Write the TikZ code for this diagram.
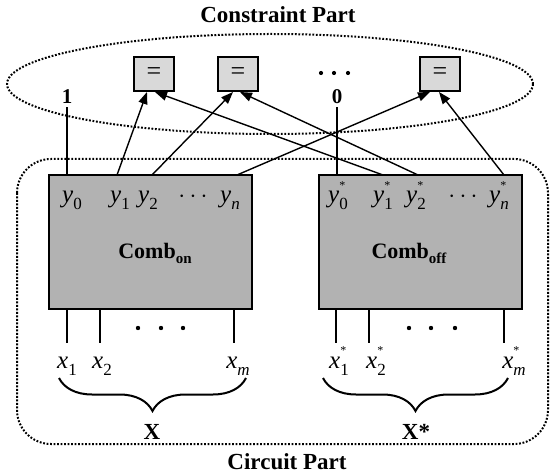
\documentclass[tikz,border=0pt]{standalone}
\usepackage{fontspec}
\setmainfont{Liberation Serif}
\usetikzlibrary{arrows.meta,decorations.pathreplacing}

% variable with lowered index, and the starred copy of it
\newcommand\subsz{\fontsize{17}{17}\selectfont}
\newcommand\starsz{\fontsize{12}{12}\selectfont}
\newcommand\ivar[2]{\textit{#1}\raisebox{-0.28em}{\subsz #2}}
\newcommand\svar[2]{\textit{#1}\rlap{\raisebox{0.55em}{\starsz *}}\raisebox{-0.28em}{\subsz #2}}

\begin{document}
\begin{tikzpicture}
[x=1pt,y=-1pt,
  eqbox/.style={draw,line width=1.6pt,fill=black!15,minimum width=40pt,
    minimum height=34pt,inner sep=0pt,font=\fontsize{26}{26}\selectfont},
  combbox/.style={draw,line width=2.6pt,fill=black!30,minimum width=203pt,
    minimum height=134pt,inner sep=0pt},
  partline/.style={line width=2pt,dash pattern=on 1.8pt off 1.7pt},
  wire/.style={line width=1.6pt},
  feed/.style={line width=1.4pt,-{Triangle[length=12pt,width=9pt]}},
  varlabel/.style={inner sep=0pt,anchor=base,font=\fontsize{25}{25}\selectfont},
  boldlabel/.style={inner sep=3pt,anchor=base,font=\bfseries\fontsize{23}{23}\selectfont},
  brace/.style={line width=2pt,decorate,decoration={brace,amplitude=33pt}}]

\useasboundingbox (0,0) rectangle (552,473);

%% the two parts
\draw[partline] (270,84) ellipse [x radius=263pt, y radius=50pt];
\draw[partline,rounded corners=34pt] (17,159) rectangle (548,444);
\node[boldlabel] (constraint) at (278,23) {Constraint Part};
\node[boldlabel] (circuit) at (287,469) {Circuit Part};

%% equality checkers
\foreach \nodename/\x in {eq1/154, eq2/238, eq3/440} {
  \node[eqbox] (\nodename) at (\x,74) {=};
}
\foreach \x in {321,334,348} {
  \fill (\x,73) circle (2.1pt);
}

%% combinational blocks
\node[combbox] (combon) at (150.5,242) {};
\node[combbox] (comboff) at (420.5,242) {};
\node[boldlabel,font=\bfseries\fontsize{22}{22}\selectfont] (onname) at (155,259)
  {Comb\raisebox{-0.2em}{\fontsize{15}{15}\selectfont on}};
\node[boldlabel,font=\bfseries\fontsize{22}{22}\selectfont] (offname) at (409,259)
  {Comb\raisebox{-0.2em}{\fontsize{15}{15}\selectfont off}};

%% outputs
\foreach \nodename/\x/\txt in {y0/72/{\ivar{y}{0}}, y1/120/{\ivar{y}{1}},
    y2/148/{\ivar{y}{2}}, yd/193/{$\cdots$}, yn/230/{\ivar{y}{\textit{n}}},
    ys0/338/{\svar{y}{0}}, ys1/383/{\svar{y}{1}}, ys2/416/{\svar{y}{2}},
    ysd/463/{$\cdots$}, ysn/499/{\svar{y}{\textit{n}}}} {
  \node[varlabel] (\nodename) at (\x,203) {\txt};
}
\foreach \nodename/\x in {on0/67, on1/117, on2/152, onn/237,
    off0/337, off1/383, off2/418, offn/504} {
  \coordinate (\nodename) at (\x,175);
}
\foreach \nodename/\x in {eq1a/147, eq1b/155, eq2a/233, eq2b/240,
    eq3a/430, eq3b/439} {
  \coordinate (\nodename) at (\x,92);
}

%% fixed values and the pairwise checks
\node[boldlabel,font=\bfseries\fontsize{21}{21}\selectfont] (one) at (67,104) {1};
\node[boldlabel,font=\bfseries\fontsize{21}{21}\selectfont] (zero) at (337,104) {0};
\draw[wire] (one) -- (on0);
\draw[wire] (zero) -- (off0);
\path
\foreach \startnode/\endnode in {on1/eq1a, off1/eq1b, on2/eq2a, off2/eq2b,
    onn/eq3a, offn/eq3b} {
  (\startnode) edge[feed] (\endnode)
};

%% inputs
\foreach \nodename/\x in {a1/67, a2/100, am/234, b1/336, b2/369, bm/504} {
  \coordinate (\nodename top) at (\x,309);
  \coordinate (\nodename end) at (\x,343);
  \draw[wire] (\nodename top) -- (\nodename end);
}
\foreach \x in {138,161,183,409,431,455} {
  \fill (\x,328) circle (2.2pt);
}
\foreach \nodename/\x/\txt in {x1/67/{\ivar{x}{1}}, x2/102/{\ivar{x}{2}},
    xm/238/{\ivar{x}{\textit{m}}}, xs1/339/{\svar{x}{1}},
    xs2/376/{\svar{x}{2}}, xsm/514/{\svar{x}{\textit{m}}}} {
  \node[varlabel] (\nodename) at (\x,368) {\txt};
}

%% input vectors
\coordinate (onbraceR) at (246,378);
\coordinate (onbraceL) at (59,378);
\coordinate (offbraceR) at (508,378);
\coordinate (offbraceL) at (323,378);
\draw[brace] (onbraceR) -- (onbraceL);
\draw[brace] (offbraceR) -- (offbraceL);
\node[boldlabel] (xvec) at (152,439) {X};
\node[boldlabel] (xsvec) at (416,439) {X*};
\end{tikzpicture}
\end{document}
